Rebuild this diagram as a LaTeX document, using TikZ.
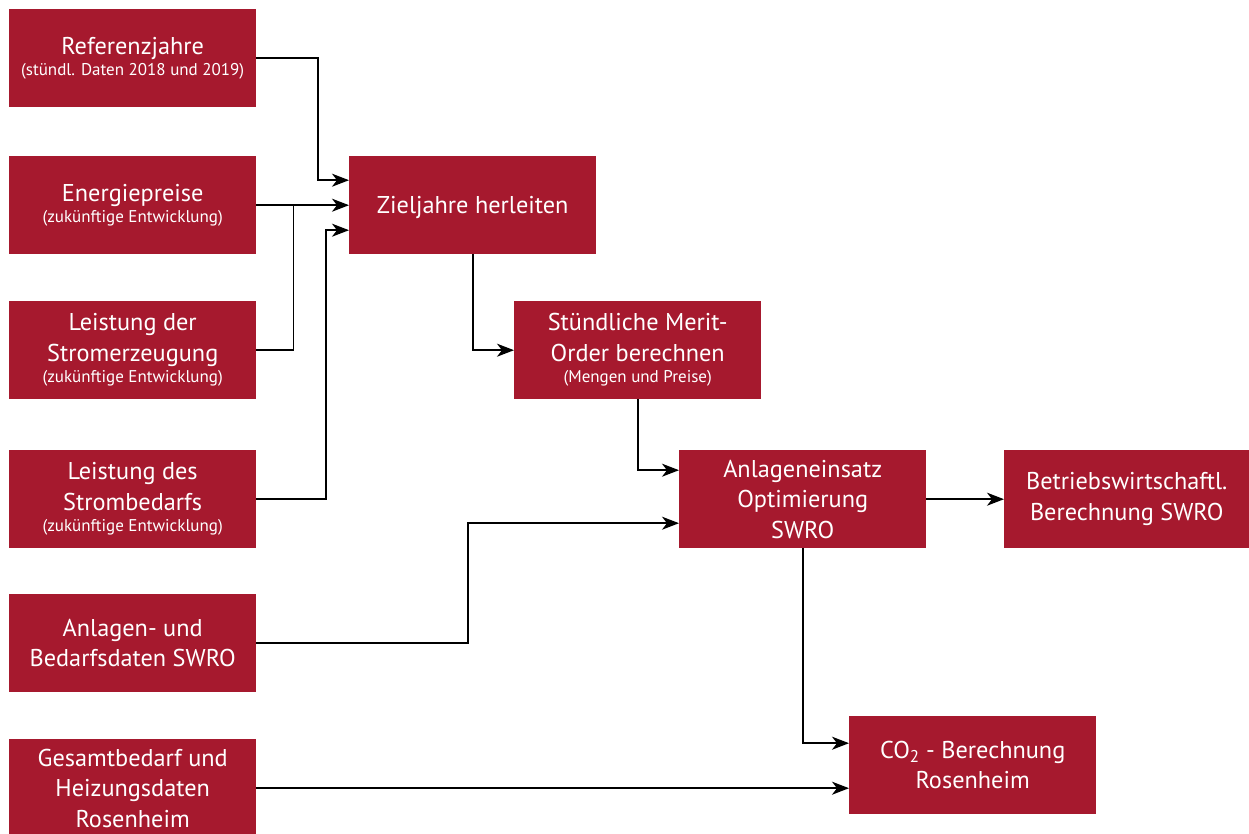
\documentclass[tikz,border=0pt]{standalone}
\usepackage{fontspec}
\setmainfont{PT Sans}
\usetikzlibrary{arrows.meta,calc}
\definecolor{boxred}{RGB}{166,25,46}
\newcommand\mainsz{\fontsize{24.3}{30.5}\selectfont}
\newcommand\smsz{\fontsize{17}{21}\selectfont}
\begin{document}
\begin{tikzpicture}[x=1pt,y=-1pt,
  box/.style={fill=boxred,text=white,minimum width=247pt,minimum height=98pt,
    inner sep=0pt,anchor=north west,align=center,font=\mainsz},
  ln/.style={draw=black,line width=1.6pt},
  arr/.style={ln,-{Stealth[length=17pt,width=13pt,inset=5pt]}}]
\useasboundingbox (0,0) rectangle (1249,834);
% left column
\node[box] (ref) at (9,9) {Referenzjahre\\[-9pt]{\smsz (stündl. Daten 2018 und 2019)}};
\node[box] (en) at (9,156) {Energiepreise\\[-9pt]{\smsz (zukünftige Entwicklung)}};
\node[box] (ler) at (9,301) {Leistung der\\Stromerzeugung\\[-9pt]{\smsz (zukünftige Entwicklung)}};
\node[box] (lsb) at (9,450) {Leistung des\\Strombedarfs\\[-9pt]{\smsz (zukünftige Entwicklung)}};
\node[box] (swro) at (9,594) {Anlagen- und\\Bedarfsdaten SWRO};
\node[box] (ges) at (9,739) {Gesamtbedarf und\\Heizungsdaten\\Rosenheim};
% process boxes
\node[box,text depth=0pt] (ziel) at (349,156) {Zieljahre herleiten};
\node[box] (merit) at (514,301) {Stündliche Merit-\\Order berechnen\\[-9pt]{\smsz (Mengen und Preise)}};
\node[box] (anl) at (679,450) {Anlageneinsatz\\Optimierung\\SWRO};
\node[box,minimum width=245pt] (betr) at (1004,450) {Betriebswirtschaftl.\\Berechnung SWRO};
\node[box] (co2) at (849,716) {CO\textsubscript{2} - Berechnung\\Rosenheim};
% helper coordinates
\coordinate (z1) at ($(ziel.west)+(0,-25)$);
\coordinate (z3) at ($(ziel.west)+(0,25)$);
\coordinate (a1) at ($(anl.west)+(0,-29)$);
\coordinate (a2) at ($(anl.west)+(0,24)$);
\coordinate (c1) at ($(co2.west)+(0,-22)$);
% connectors
\draw[arr] (ref.east) -| ([xshift=-31pt]z1) -- (z1);
\draw[arr] (en.east) -- (ziel.west);
\draw[ln] (ler.east) -| ([xshift=37pt]en.east);
\draw[arr] (lsb.east) -| ([xshift=-23pt]z3) -- (z3);
\draw[arr] (ziel.south) |- (merit.west);
\draw[arr] (merit.south) |- (a1);
\draw[arr] (swro.east) -| ([xshift=-211pt]a2) -- (a2);
\draw[arr] (anl.east) -- (betr.west);
\draw[arr] (anl.south) |- (c1);
\draw[arr] (ges.east) -- (ges.east -| co2.west);
\end{tikzpicture}
\end{document}
